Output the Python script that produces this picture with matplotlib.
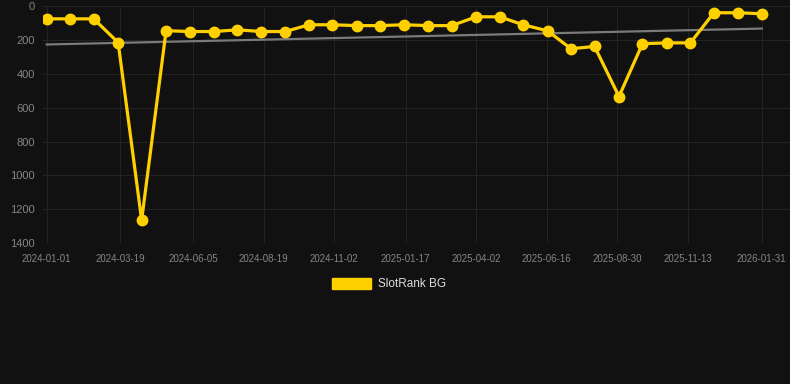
import matplotlib
matplotlib.use("Agg")
import matplotlib.pyplot as plt
import matplotlib.dates as mdates
from matplotlib.patches import Patch
import numpy as np
import pandas as pd

plt.rcParams['font.family'] = ['Liberation Sans', 'DejaVu Sans']

# rank history (lower number = better rank)
dates = [
    "2024-01-01", "2024-01-26", "2024-02-20", "2024-03-17", "2024-04-11",
    "2024-05-07", "2024-06-01", "2024-06-27", "2024-07-22", "2024-08-16",
    "2024-09-11", "2024-10-06", "2024-10-31", "2024-11-26", "2024-12-21",
    "2025-01-15", "2025-02-10", "2025-03-07", "2025-04-02", "2025-04-27",
    "2025-05-22", "2025-06-17", "2025-07-12", "2025-08-06", "2025-09-01",
    "2025-09-26", "2025-10-22", "2025-11-16", "2025-12-11", "2026-01-06",
    "2026-01-31",
]
ranks = [
    75, 75, 75, 215, 1265,
    145, 150, 150, 140, 150,
    150, 110, 110, 115, 115,
    110, 115, 115, 63, 63,
    110, 146, 252, 238, 534,
    222, 217, 217, 39, 39,
    45,
]
tick_dates = [
    "2024-01-01", "2024-03-19", "2024-06-05", "2024-08-19", "2024-11-02",
    "2025-01-17", "2025-04-02", "2025-06-16", "2025-08-30", "2025-11-13",
    "2026-01-31",
]
y_ticks = [0, 200, 400, 600, 800, 1000, 1200, 1400]
series_name = "SlotRank BG"

bg = "#111111"
gold = "#FFD000"
grid_col = "#232323"
label_col = "#858585"

x = pd.to_datetime(dates)
xt = pd.to_datetime(tick_dates)

# linear trend over the points
xn = mdates.date2num(x)
k, b = np.polyfit(xn, ranks, 1)
trend = k * xn + b

fig = plt.figure(figsize=(7.9, 3.84), dpi=100, facecolor=bg)
ax = fig.add_axes([0.0544, 0.367, 0.9456, 0.617])
ax.set_facecolor(bg)

ax.plot(x, trend, color="#7a7a7a", lw=1.6, zorder=2)
ax.plot(x, ranks, color=gold, lw=2.3, marker="o", ms=7.5,
        solid_joinstyle="miter", zorder=3)

ax.set_ylim(1400, 0)
ax.set_xlim(xt[0] - pd.Timedelta(days=4), xt[-1] + pd.Timedelta(days=30))
ax.set_yticks(y_ticks)
ax.set_xticks(xt)
ax.set_xticklabels(tick_dates)
ax.grid(True, color=grid_col, lw=0.8)
ax.set_axisbelow(True)
ax.tick_params(axis="x", length=0, pad=8, labelsize=7, colors=label_col)
ax.tick_params(axis="y", length=0, pad=6, labelsize=8, colors=label_col)
for s in ax.spines.values():
    s.set_visible(False)

fig.legend(handles=[Patch(facecolor=gold, edgecolor=gold)], labels=[series_name],
           loc="center", bbox_to_anchor=(0.493, 0.26), frameon=False,
           handlelength=3.3, handleheight=1.0, handletextpad=0.6,
           fontsize=8.5, labelcolor="#dddddd")

fig.savefig("out.png", dpi=100, facecolor=bg)
